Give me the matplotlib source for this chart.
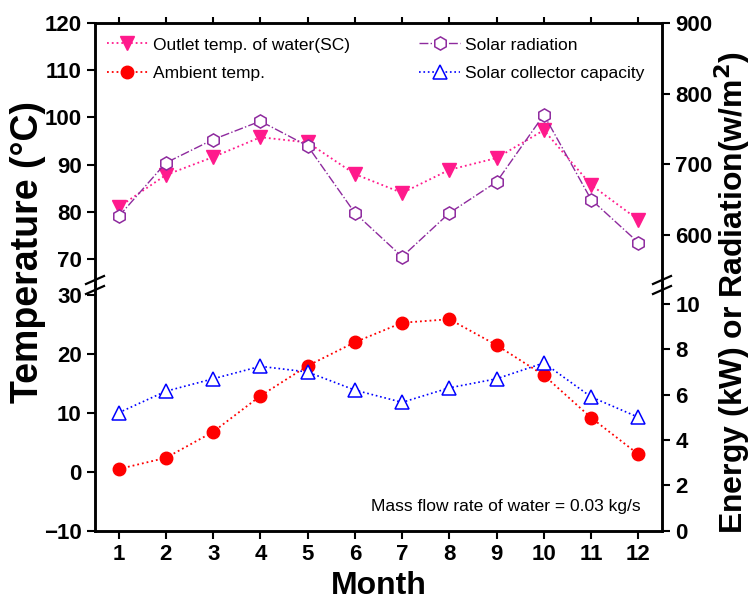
import numpy as np
import matplotlib.pyplot as plt
from matplotlib.lines import Line2D

months = np.arange(1, 13)
outlet_temp = [81.0, 87.8, 91.6, 95.8, 94.7, 88.0, 84.0, 88.9, 91.4, 97.3, 85.7, 78.3]
solar_rad = [626, 702, 735, 761, 726, 631, 569, 631, 675, 770, 650, 589]
ambient_temp = [0.5, 2.4, 6.8, 12.9, 18.0, 22.0, 25.3, 25.9, 21.5, 16.4, 9.2, 3.0]
collector_kw = [5.2, 6.15, 6.7, 7.25, 7.0, 6.2, 5.66, 6.3, 6.7, 7.4, 5.9, 5.0]

plt.rcParams['font.family'] = ['Liberation Sans', 'DejaVu Sans']

W, H = 754, 603
fig = plt.figure(figsize=(W / 100, H / 100), dpi=100)
L, R = 95 / W, 662 / W
yj = 285  # pixel row where the two panels meet
ax_top = fig.add_axes([L, 1 - yj / H, R - L, (yj - 23) / H])
ax_bot = fig.add_axes([L, 1 - 531 / H, R - L, (531 - yj) / H])
ax_top2 = ax_top.twinx()
ax_bot2 = ax_bot.twinx()

pink, red, purple, blue = '#ff1a8c', '#ff0000', '#8e2a9e', '#0000ff'

l1, = ax_top.plot(months, outlet_temp, ':', color=pink, lw=1.3, marker='v', ms=9.5,
                  mfc=pink, mec=pink, label='Outlet temp. of water(SC)')
l3, = ax_top2.plot(months, solar_rad, '-.', color=purple, lw=1.0, marker='h', ms=9.5,
                   mfc='white', mec=purple, mew=1.1, label='Solar radiation')
l2, = ax_bot.plot(months, ambient_temp, ':', color=red, lw=1.3, marker='o', ms=9,
                  mfc=red, mec=red, label='Ambient temp.')
l4, = ax_bot2.plot(months, collector_kw, ':', color=blue, lw=1.2, marker='^', ms=10.5,
                   mfc='white', mec=blue, mew=1.1, label='Solar collector capacity')

for a in (ax_top, ax_bot, ax_top2, ax_bot2):
    a.set_xlim(0.5, 12.5)
    a.set_xticks(months)
    for s in a.spines.values():
        s.set_linewidth(1.8)
    a.tick_params(direction='out', length=6, width=1.5, labelsize=16)

ax_top.set_ylim(64.5, 120)
ax_top.set_yticks([70, 80, 90, 100, 110, 120])
ax_top2.set_ylim(529, 900)
ax_top2.set_yticks([600, 700, 800, 900])
ax_bot.set_ylim(-10, 31.7)
ax_bot.set_yticks([-10, 0, 10, 20, 30])
ax_bot2.set_ylim(-0.02, 10.84)
ax_bot2.set_yticks([0, 2, 4, 6, 8, 10])

for a in (ax_top, ax_top2):
    a.spines['bottom'].set_visible(False)
    a.tick_params(axis='x', bottom=False, labelbottom=False, top=True, length=4)
for a in (ax_bot, ax_bot2):
    a.spines['top'].set_visible(False)
ax_bot2.tick_params(axis='x', bottom=False, labelbottom=False)

for a in (ax_top, ax_top2, ax_bot, ax_bot2):
    for lab in a.get_xticklabels() + a.get_yticklabels():
        lab.set_fontweight('bold')

ax_bot.set_xlabel('Month', fontsize=23, fontweight='bold', labelpad=4)

fig.text(0.037, 1 - 252 / H, 'Temperature (°C)', rotation=90, ha='center', va='center',
         fontsize=27, fontweight='bold')
fig.text(0.971, 1 - 292 / H, 'Energy (kW) or Radiation(w/m$^\\mathbf{2}$)', rotation=90,
         ha='center', va='center', fontsize=23, fontweight='bold')

ax_top2.legend(handles=[l1, l2, l3, l4], ncol=2, loc='upper left', frameon=False,
               bbox_to_anchor=(0.021, 0.945), fontsize=12.5, handlelength=2.35,
               handletextpad=0.3, columnspacing=4.0, labelspacing=0.75,
               borderaxespad=0, borderpad=0)

ax_bot.text(0.963, 0.07, 'Mass flow rate of water = 0.03 kg/s', transform=ax_bot.transAxes,
            ha='right', va='bottom', fontsize=12.5)

# break marks across the left and right spines
for xs in (95, 662):
    for dy in (-5, 5):
        x0, x1 = (xs - 9) / W, (xs + 9) / W
        y0, y1 = 1 - (yj + dy + 4) / H, 1 - (yj + dy - 4) / H
        fig.add_artist(Line2D([x0, x1], [y0, y1], color='black', lw=1.6))

fig.savefig('out.png', dpi=100)
